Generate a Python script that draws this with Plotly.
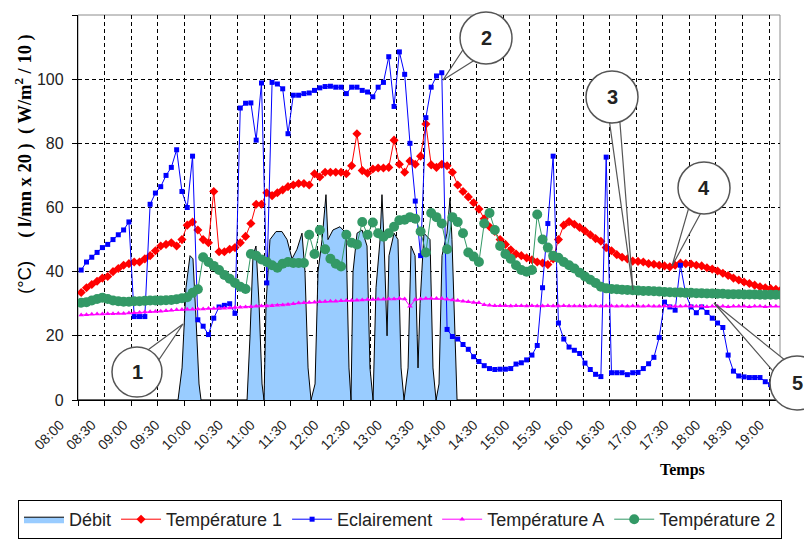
import math
import plotly.graph_objects as go

# relevés toutes les 5 min, en minutes après 08:00
minutes = [3 + 5 * k for k in range(133)]

eclairement = [
    40.5, 43, 44.5, 46, 47.5, 48.5, 50, 51.5, 53, 55.5,
    26, 26, 26, 61, 64.5, 66.5, 70, 72.5, 78, 65,
    60, 76, 25, 23, 20.4, 25.5, 29, 29.5, 30, 27,
    91, 92.5, 92.6, 81, 98.8, 36.5, 99, 98.5, 97, 83,
    95, 95, 95.5, 95.7, 96.5, 97.3, 97.7, 97.8, 97.5, 97.5,
    95.5, 97.5, 97.5, 96.5, 96, 94.5, 97.5, 99, 107, 91.5,
    108.5, 101.5, 80, 62, 45, 88, 97.5, 101, 102, 22,
    19.8, 19, 17.3, 15.8, 13.5, 12, 10.7, 9.8, 9.5, 9.6,
    9.6, 9.8, 11.2, 11.6, 12.5, 14, 17, 35, 55, 76,
    24, 19, 16.5, 15.5, 14.5, 11.5, 9.5, 8, 7.3, 75.7,
    8.5, 8.5, 8.5, 7.9, 8.5, 8.6, 9.8, 11.3, 13.3, 19.5,
    30.5, 29, 28, 42, 33, 29, 27.2, 29, 27.3, 25.5,
    24, 22.6, 14, 9, 7.5, 7.2, 7, 7, 7, 5.7,
    4.8, None, None,
]

temperature_1 = [
    33.5, 35, 36, 37, 38, 38.5, 40, 41, 42, 42.5,
    43, 43, 44, 45, 46.5, 48, 48.5, 49, 48, 50,
    54.5, 55.5, 53, 50, 49, 65, 46.2, 46.2, 47, 47.5,
    49, 51, 55, 61, 61, 64.6, 63.7, 64.6, 65.5, 66.5,
    67, 67.5, 67.5, 67, 70.5, 69.5, 71, 71, 71, 71,
    70.5, 73, 83, 71.5, 70.7, 72, 72.3, 72.3, 72.5, 81,
    73.5, 71, 74.5, 73.5, 76, 86, 73.3, 72.5, 73.5, 73,
    71, 67, 65, 63.3, 61.5, 59.5, 56.5, 54, 52.5, 50,
    48.5, 46.8, 45.5, 45, 44.3, 43.7, 43, 42.7, 42.2, 44,
    50, 54.5, 55.6, 54.8, 53.8, 52.7, 51.5, 50.3, 49.5, 47.5,
    46.5, 45.3, 44.5, 44, 43.3, 43.2, 43, 42.5, 42.3, 42,
    41.8, 41.5, 42, 42.7, 42.5, 42.4, 42, 41.8, 41.2, 40.8,
    40.2, 39.5, 38.8, 38, 37.4, 36.8, 36.3, 35.8, 35.3, 35,
    34.7, 34.5, 34.4,
]

temperature_a = [
    26.5, 26.6, 26.7, 26.8, 26.8, 26.9, 26.9, 27, 27, 27.1,
    27.2, 27.3, 27.4, 27.5, 27.6, 27.7, 27.8, 28, 28.1, 28.2,
    28.3, 28.3, 28.4, 28.4, 28.5, 28.5, 28.6, 28.6, 28.7, 28.8,
    28.9, 29, 29.1, 29.2, 29.3, 29.3, 29.4, 29.5, 29.6, 29.8,
    30, 30.2, 30.3, 30.4, 30.5, 30.6, 30.7, 30.8, 30.8, 30.9,
    31, 31, 31.1, 31.2, 31.3, 31.3, 31.4, 31.4, 31.5, 31.5,
    31.6, 31.5, 29.2, 31.3, 31.5, 31.6, 31.6, 31.6, 31.6, 31.4,
    31.2, 31, 30.8, 30.6, 30.4, 30.3, 29.7, 29.5, 29.4, 29.4,
    29.4, 29.3, 29.4, 29.4, 29.3, 29.4, 29.3, 29.3, 29.4, 29.3,
    29.3, 29.4, 29.3, 29.3, 29.3, 29.2, 29.3, 29.3, 29.2, 29.3,
    29.3, 29.2, 29.3, 29.2, 29.3, 29.2, 29.2, 29.3, 29.2, 29.2,
    29.3, 29.2, 29.2, 29.2, 29.3, 29.2, 29.2, 29.2, 29.1, 29.2,
    29.2, 29.2, 29.1, 29.2, 29.2, 29.2, 29.1, 29.2, 29.2, 29.1,
    29.2, 29.2, 29.2,
]

temperature_2 = [
    30.3, 30.5, 31, 31.5, 31.9, 31.5, 31, 30.8, 30.6, 30.6,
    30.8, 30.8, 30.9, 31, 31, 31, 31.1, 31.2, 31.4, 31.7,
    32, 33.4, 34.5, 44.5, 43, 41.8, 40.5, 39, 37.8, 36.5,
    35.3, 34.6, 45.5, 45, 43.8, 43, 42, 41.2, 42.5, 43,
    42.7, 42.7, 42.7, 51.5, 45.5, 53, 47, 44, 42.5, 41.6,
    51.5, 49, 48.5, 55.5, 51.5, 55.3, 52, 50.9, 52, 54,
    56, 56.2, 57, 56.5, 52.5, 46, 58.3, 57, 55, 47,
    57, 55.5, 52, 46, 44.7, 43, 55, 58.3, 53, 48,
    45.5, 44, 42, 40.5, 40, 40.5, 57.8, 50, 47.5, 45,
    44.3, 43, 42, 41, 39.7, 38.5, 37.5, 36.5, 35.3, 34.8,
    34.6, 34.5, 34.4, 34.3, 34.2, 34.1, 34, 34, 33.9, 33.8,
    33.7, 33.6, 33.5, 33.5, 33.4, 33.4, 33.3, 33.3, 33.2, 33.2,
    33.1, 33.1, 33, 33, 33, 32.9, 32.9, 32.9, 32.8, 32.8,
    32.8, 32.8, 32.8,
]

# débit (l/mn x 20), relevé irrégulier
debit_min = [
    0, 94.3, 98.1, 101.8, 105.6, 108.4, 111.3, 114.1, 116,
    159.4, 162.2, 165, 167.8, 170.7, 173.5, 175.4, 177.3, 181, 186.7,
    192.3, 197.1, 201.8, 206.5, 211.2, 214, 216.9, 219.7, 223.5, 226.3,
    230.1, 233.8, 235.7, 240.4, 247, 252.7, 255.5, 257.4, 259.3, 263.1,
    267.8, 272.5, 275.3, 278.2, 281, 284.8, 286.6, 288.5, 291.4, 293.2,
    298, 301.7, 304.6, 307.4, 311.2, 314, 317.8, 320.6, 322.5, 326.2,
    331.9, 334.7, 337.6, 340.4, 343.2, 347.9, 350.8, 352.6, 355.5, 357.4,
    662,
]
debit = [
    0, 0, 10, 35, 45, 44, 25, 5, 0,
    0, 20, 45, 48, 30, 5, 0, 30, 50, 52.5,
    52.5, 50, 44, 47, 52, 40, 10, 0, 5, 40,
    50, 64, 50, 53, 54, 52, 10, 0, 40, 52,
    53, 48, 10, 0, 35, 50, 64, 50, 20, 45,
    52, 50, 10, 0, 10, 48, 45, 10, 30, 52,
    50, 10, 0, 5, 45, 52, 63, 50, 20, 0,
    0,
]

heures = [
    "08:00", "08:30", "09:00", "09:30", "10:00", "10:30", "11:00", "11:30",
    "12:00", "12:30", "13:00", "13:30", "14:00", "14:30", "15:00", "15:30",
    "16:00", "16:30", "17:00", "17:30", "18:00", "18:30", "19:00",
]

fig = go.Figure()
fig.add_trace(go.Scatter(x=debit_min, y=debit, name="Débit", mode="lines",
                         fill="tozeroy", fillcolor="#99CCFF",
                         line=dict(color="black", width=1)))
fig.add_trace(go.Scatter(x=minutes, y=temperature_1, name="Température 1", mode="lines+markers",
                         line=dict(color="#FF0000", width=1),
                         marker=dict(symbol="diamond", size=7, color="#FF0000")))
fig.add_trace(go.Scatter(x=minutes, y=eclairement, name="Eclairement", mode="lines+markers",
                         line=dict(color="#0000FF", width=1),
                         marker=dict(symbol="square", size=5, color="#0000FF")))
fig.add_trace(go.Scatter(x=minutes, y=temperature_a, name="Température A", mode="lines+markers",
                         line=dict(color="#FF00FF", width=1),
                         marker=dict(symbol="triangle-up", size=5, color="#FF00FF")))
fig.add_trace(go.Scatter(x=minutes, y=temperature_2, name="Température 2", mode="lines+markers",
                         line=dict(color="#339966", width=1),
                         marker=dict(symbol="circle", size=10, color="#339966")))
# empty trace so the grid axes get drawn
fig.add_trace(go.Scatter(x=[None], y=[None], xaxis="x2", yaxis="y2",
                         showlegend=False, hoverinfo="skip"))

# page body has an 8px margin: positions below are screen pixels
OFF = 8
W, H = 812 - OFF, 539 - OFF
L, R, T, B = 78, 780, 15, 400


def paper(px, py):
    return (px - L) / (R - L), (B - py) / (B - T)


shapes = [dict(type="rect", xref="paper", yref="paper", x0=0, y0=0, x1=1, y1=1,
               line=dict(color="#8c8c8c", width=1), layer="below")]
annotations = []

# bulles numérotées : (texte, centre x, centre y, rayon, pointe x, pointe y, demi-angle)
bulles = [
    ("1", 137, 372, 25, 183, 324, 0.30),
    ("2", 486, 38, 26, 443, 80, 0.30),
    ("3", 612, 97, 26, 633, 290, 0.20),
    ("4", 704, 188, 26, 672, 266, 0.25),
    ("5", 797, 383, 27, 714, 303, 0.30),
]
for txt, cx, cy, r, tx, ty, da in bulles:
    a = math.atan2(ty - cy, tx - cx)
    p1 = paper(cx + r * math.cos(a - da), cy + r * math.sin(a - da))
    p2 = paper(cx + r * math.cos(a + da), cy + r * math.sin(a + da))
    pt = paper(tx, ty)
    shapes.append(dict(type="path", xref="paper", yref="paper",
                       path=f"M {p1[0]},{p1[1]} L {pt[0]},{pt[1]} L {p2[0]},{p2[1]} Z",
                       fillcolor="white", line=dict(color="#555555", width=1.2), layer="above"))
    c0 = paper(cx - r, cy + r)
    c1 = paper(cx + r, cy - r)
    shapes.append(dict(type="circle", xref="paper", yref="paper",
                       x0=c0[0], y0=c0[1], x1=c1[0], y1=c1[1],
                       fillcolor="white", line=dict(color="#555555", width=1.5), layer="above"))
    cc = paper(cx, cy)
    annotations.append(dict(xref="paper", yref="paper", x=cc[0], y=cc[1], text=f"<b>{txt}</b>",
                            xanchor="center", yanchor="middle", showarrow=False,
                            font=dict(family="Arial, Liberation Sans", size=20, color="#222")))

tx, ty = paper(682, 470)
annotations.append(dict(xref="paper", yref="paper", x=tx, y=ty, text="<b>Temps</b>",
                        xanchor="center", yanchor="middle", showarrow=False,
                        font=dict(family="Liberation Serif, Times New Roman", size=16, color="black")))
yx, yy = paper(23, 164)
annotations.append(dict(
    xref="paper", yref="paper", x=yx, y=yy, textangle=-90, showarrow=False,
    xanchor="center", yanchor="middle",
    text='<span style="font-family:Liberation Sans, Arial">(°C)</span>'
         '&nbsp;&nbsp;&nbsp;&nbsp;&nbsp;<b>( l/mn x 20 )&nbsp;&nbsp;( W/m<sup>2</sup> / 10 )</b>',
    font=dict(family="Liberation Serif, Times New Roman", size=18.5, color="black")))

lx, ly = paper(18, 500)

fig.update_layout(
    width=W, height=H,
    template="none",
    margin=dict(l=L - OFF, r=W - (R - OFF), t=T - OFF, b=H - (B - OFF), autoexpand=False),
    paper_bgcolor="white", plot_bgcolor="white",
    font=dict(family="Arial, Liberation Sans", size=15, color="#222"),
    showlegend=True,
    legend=dict(orientation="h", x=lx, y=ly, xanchor="left", yanchor="top",
                bordercolor="black", borderwidth=1, bgcolor="white", itemwidth=40,
                font=dict(family="Arial, Liberation Sans", size=18, color="#222")),
    xaxis=dict(range=[0, (R - L) * 660 / 700], tickvals=[30 * i for i in range(len(heures))],
               ticktext=heures, tickangle=-45, ticks="", showgrid=False, zeroline=False,
               showline=True, linecolor="black", linewidth=1.3,
               ticklabelshift=-18, ticklabelstandoff=10,
               tickfont=dict(size=14), automargin=False),
    yaxis=dict(range=[0, 120], tickvals=[0, 20, 40, 60, 80, 100, 120], ticks="outside",
               ticklen=5, tickcolor="black", showgrid=False, zeroline=False,
               showline=True, linecolor="black", linewidth=1.3, ticklabelstandoff=5,
               tickfont=dict(size=16), automargin=False),
    xaxis2=dict(overlaying="x", anchor="y2", range=[0, (R - L) / 26.58],
                tickvals=list(range(27)), ticks="outside", ticklen=5, tickcolor="black",
                showticklabels=False, showgrid=True, gridcolor="black", gridwidth=1.3,
                griddash="4px,3px", zeroline=False, showline=False),
    yaxis2=dict(overlaying="y", anchor="x2", range=[0, 120], tickvals=[20, 40, 60, 80, 100],
                ticks="", showticklabels=False, showgrid=True, gridcolor="black",
                gridwidth=1.3, griddash="4px,3px", zeroline=False, showline=False),
    shapes=shapes,
    annotations=annotations,
)

fig.write_html("out.html")
